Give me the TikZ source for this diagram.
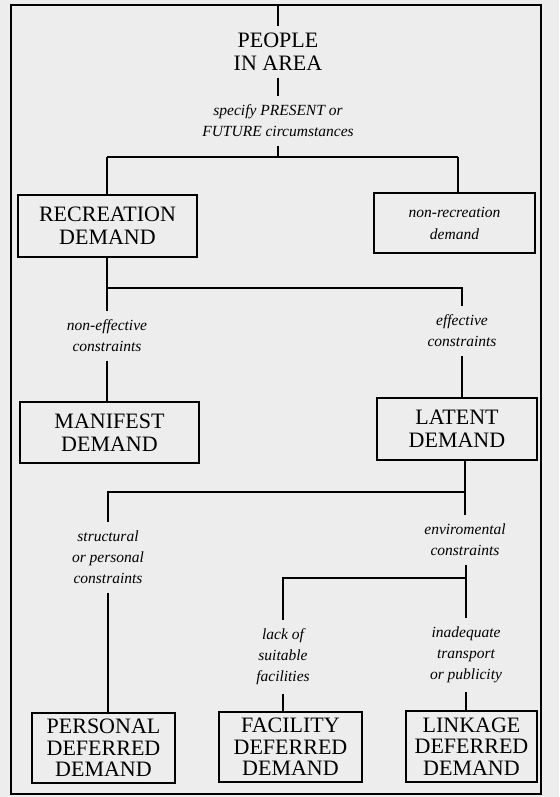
\documentclass[tikz,border=0pt]{standalone}
\usepackage{fontspec}
\setmainfont{Liberation Serif}
\begin{document}
\begin{tikzpicture}[x=1pt,y=-1pt,
  line width=1.5pt,
  boxnode/.style={draw, line width=1.3pt, align=center, inner sep=0pt,
    font=\fontsize{22}{23}\selectfont},
  lowbox/.style={boxnode, font=\fontsize{22}{21.5}\selectfont},
  lbl/.style={align=center, inner xsep=2pt, inner ysep=8pt,
    font=\fontsize{15.5}{21}\selectfont\itshape},
  title/.style={align=center, inner sep=6pt, font=\fontsize{22}{23}\selectfont}]
\useasboundingbox (0,0) rectangle (559,797);
\fill[black!7] (0,0) rectangle (559,797);
% outer frame
\draw[line width=1.4pt] (11,5) rectangle (541,794);

% nodes
\node[title] (people) at (278,52) {PEOPLE\\IN AREA};
\node[lbl] (specify) at (278,121) {specify PRESENT or\\FUTURE circumstances};
\node[boxnode, minimum width=179pt, minimum height=62pt] (rec) at (107.5,226) {RECREATION\\DEMAND};
\node[boxnode, minimum width=161pt, minimum height=60pt,
  font=\fontsize{15.5}{22}\selectfont\itshape] (nonrec) at (454.5,223) {non-recreation\\demand};
\node[lbl] (noneff) at (107,336) {non-effective\\constraints};
\node[lbl] (eff) at (462,331) {effective\\constraints};
\node[boxnode, minimum width=179pt, minimum height=61pt] (manifest) at (109.5,432.5) {MANIFEST\\DEMAND};
\node[boxnode, minimum width=160pt, minimum height=62pt] (latent) at (457,429) {LATENT\\DEMAND};
\node[lbl] (struct) at (108,557.5) {structural\\or personal\\constraints};
\node[lbl] (env) at (465,540) {enviromental\\constraints};
\node[lbl] (lack) at (283,657) {lack of\\suitable\\facilities};
\node[lbl] (inadeq) at (466,655) {inadequate\\transport\\or publicity};
\node[lowbox, minimum width=143pt, minimum height=70pt] (personal) at (103.5,748) {PERSONAL\\DEFERRED\\DEMAND};
\node[lowbox, minimum width=143pt, minimum height=70pt] (facility) at (290.5,747) {FACILITY\\DEFERRED\\DEMAND};
\node[lowbox, minimum width=131pt, minimum height=71pt] (linkage) at (471.5,746.5) {LINKAGE\\DEFERRED\\DEMAND};

% junction coordinates
\coordinate (top) at (278,5);
\coordinate (j0) at (278,157);
\coordinate (j0l) at (107,157);
\coordinate (j0r) at (458,157);
\coordinate (j1) at (107,288);
\coordinate (j1r) at (462,288);
\coordinate (j2) at (465,492);
\coordinate (j2l) at (108,492);
\coordinate (j3) at (466,578);
\coordinate (j3l) at (283,578);

% connectors
\draw (top) -- (people.north);
\draw (people.south) -- (specify.north);
\draw (specify.south) -- (j0);
\draw (j0l) -- (j0r);
\draw (j0l) -- (j0l |- rec.north);
\draw (j0r) -- (j0r |- nonrec.north);
\draw (rec.south -| j1) -- (j1) -- (noneff.north);
\draw (j1) -- (j1r) -- (eff.north);
\draw (noneff.south) -- (noneff.south |- manifest.north);
\draw (eff.south) -- (eff.south |- latent.north);
\draw (latent.south -| j2) -- (j2) -- (env.north);
\draw (j2) -- (j2l) -- (struct.north);
\draw (struct.south) -- (struct.south |- personal.north);
\draw (env.south -| j3) -- (j3) -- (inadeq.north);
\draw (j3) -- (j3l) -- (lack.north);
\draw (lack.south) -- (lack.south |- facility.north);
\draw (inadeq.south) -- (inadeq.south |- linkage.north);
\end{tikzpicture}
\end{document}
